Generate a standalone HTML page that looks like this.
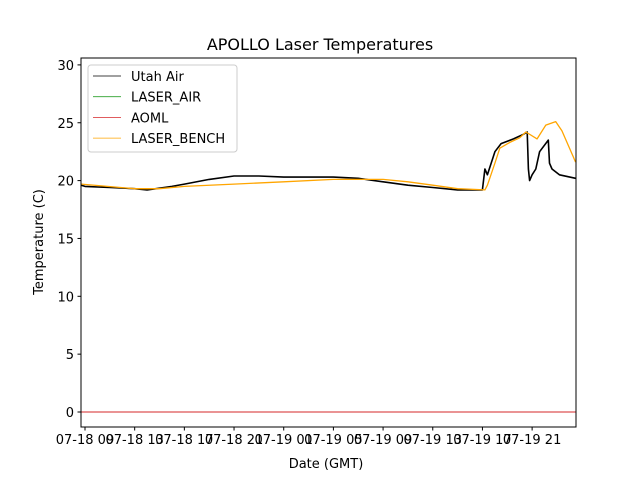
<!DOCTYPE html>
<html><head><meta charset="utf-8"><style>
body{margin:0;background:#fff}
svg text{font-family:"DejaVu Sans","Liberation Sans",sans-serif;fill:#000}
</style></head><body>
<svg width="640" height="480" viewBox="0 0 640 480">
<g id="plot"></g>
</svg>
<script>
const xTickLabels=["07-18 09","07-18 13","07-18 17","07-18 21","07-19 01","07-19 05","07-19 09","07-19 13","07-19 17","07-19 21"];
const xTickHours=[0,4,8,12,16,20,24,28,32,36];
const yTicks=[0,5,10,15,20,25,30];
const airHours=[-0.3,0,2,4,5,7,8,10,12,14,16,20,22,24,26,28,30,32,32.2,32.4,33,33.5,34.5,35.3,35.6,35.7,35.8,36,36.3,36.6,37.3,37.4,37.6,38.2,39.5];
const airTemps=[19.6,19.5,19.4,19.3,19.2,19.5,19.7,20.1,20.4,20.4,20.3,20.3,20.2,19.9,19.6,19.4,19.2,19.2,21,20.5,22.5,23.2,23.6,24,24.2,21,20,20.5,21,22.5,23.5,21.5,21,20.5,20.2];
const benchHours=[-0.3,4,6,8,12,16,20,24,26,28,30,32.2,32.4,33,33.4,34.2,35,35.5,36.4,37.1,37.9,38.4,39.5];
const benchTemps=[19.7,19.3,19.3,19.5,19.7,19.9,20.1,20.1,19.9,19.6,19.3,19.2,19.6,21.5,22.8,23.3,23.7,24.2,23.6,24.8,25.1,24.3,21.6];
const aomlHours=[-0.32,39.5];
const aomlTemps=[0,0];
const L=81,R=576,T=58,B=427;
const xS=h=>85+h*12.42;
const yS=v=>412-v*11.57;
const ns="http://www.w3.org/2000/svg";
const g=document.getElementById('plot');
function mk(t,a){const e=document.createElementNS(ns,t);for(const k in a)e.setAttribute(k,a[k]);g.appendChild(e);return e;}
function txt(x,y,s,anchor,size){const e=mk('text',{x:x,y:y,'text-anchor':anchor,'font-size':size});e.textContent=s;return e;}
const t=txt(320,50,"APOLLO Laser Temperatures","middle",16);


function series(hs,vs,color,w,name){
 const p=mk('polyline',{points:hs.map((h,i)=>xS(h).toFixed(1)+","+yS(vs[i]).toFixed(1)).join(" "),fill:"none",stroke:color,'stroke-width':w,'stroke-linejoin':'round'});
 
 
}
series(aomlHours,aomlTemps,"#d62728",1,"aoml-line");
series(airHours,airTemps,"#000",1.6,"utah-air-line");
series(benchHours,benchTemps,"orange",1.3,"laser-bench-line");
const frame=mk('rect',{x:L,y:T,width:R-L,height:B-T,fill:"none",stroke:"#000",'stroke-width':1});


yTicks.forEach(v=>{
 const y=yS(v);
 const tk=mk('line',{x1:L-3.5,x2:L,y1:y,y2:y,stroke:"#000"});
 
 
 const lb=txt(L-7,y+5,String(v),"end",13);
 
 
});
xTickHours.forEach((h,i)=>{
 const x=xS(h);
 const tk=mk('line',{x1:x,x2:x,y1:B,y2:B+3.5,stroke:"#000"});
 
 
 const lb=txt(x,B+17,xTickLabels[i],"middle",13);
 
 
});
const xt=txt(326,468,"Date (GMT)","middle",13);


const yt=txt(0,0,"Temperature (C)","middle",13);
yt.setAttribute('transform','translate(43,242) rotate(-90)');


const lg=mk('rect',{x:88,y:65,width:149,height:87,rx:3,fill:"#fff",'fill-opacity':0.8,stroke:"#ccc"});


const entries=[["Utah Air","#000"],["LASER_AIR","#2ca02c"],["AOML","#d62728"],["LASER_BENCH","orange"]];
entries.forEach((e,i)=>{
 const y=76+i*20.7;
 const ln=mk('line',{x1:93,x2:121,y1:y,y2:y,stroke:e[1],'stroke-width':0.8});
 
 
 const lb=txt(131,y+5,e[0],"start",13);
 
 
});
</script>
</body></html>
